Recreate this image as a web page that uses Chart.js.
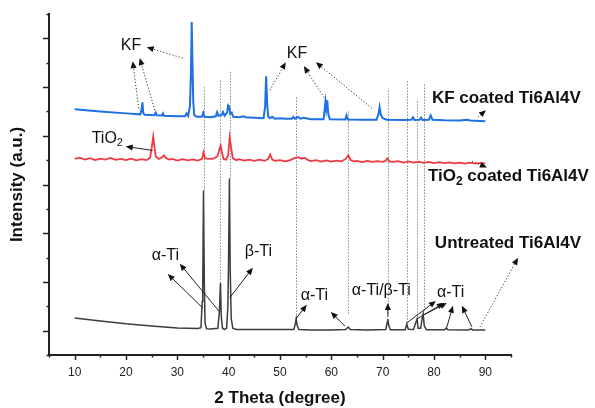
<!DOCTYPE html>
<html>
<head>
<meta charset="utf-8">
<script src="https://cdn.jsdelivr.net/npm/chart.js@4.4.1/dist/chart.umd.min.js"></script>
<style>
  html, body { margin: 0; padding: 0; background: #fff; }
  canvas { display: block; }
</style>
</head>
<body>
<canvas id="xrd" width="595" height="408"></canvas>
<script>
'use strict';

// [2theta, intensity] (traces are stacked with an offset)
const untreated = [
  [10, 1.52], [15, 1.40], [20, 1.28], [25, 1.19], [30, 1.11], [34, 1.09],
  [34.6, 1.12], [34.85, 2.2], [34.95, 2.8], [35.1, 6.75], [35.25, 3.0], [35.4, 1.3], [35.7, 1.08],
  [36.5, 1.07], [37.9, 1.1], [38.2, 1.8], [38.4, 2.96], [38.55, 1.6], [38.8, 1.1],
  [39.2, 1.05], [39.6, 1.1], [39.85, 2.0], [39.95, 3.4], [40.15, 7.25], [40.3, 3.5], [40.5, 1.5],
  [40.8, 1.1], [41.5, 1.05], [45, 1.05], [50, 1.05], [52.7, 1.05], [53.0, 1.3], [53.15, 1.48],
  [53.35, 1.2], [53.7, 1.05], [56, 1.03], [60, 1.03], [62.8, 1.05], [63.3, 1.15], [63.7, 1.05],
  [67, 1.03], [70.6, 1.05], [70.9, 1.35], [71.0, 1.48], [71.2, 1.2], [71.5, 1.04], [74.4, 1.04],
  [74.7, 1.27], [75.0, 1.06], [76.0, 1.05], [76.5, 1.35], [76.7, 1.48], [76.9, 1.1], [77.4, 1.1],
  [77.7, 1.5], [77.9, 1.69], [78.1, 1.2], [78.5, 1.04], [82.1, 1.04], [82.4, 1.12], [82.7, 1.04],
  [86.8, 1.03], [87.2, 1.08], [87.5, 1.03], [90, 1.03]
];

const tio2Coated = [
  [10, 8.05], [11, 8.1], [12, 8.02], [13, 8.08], [14, 8.0], [15, 8.06], [16, 8.02], [17, 8.09],
  [18, 8.01], [19, 8.05], [20, 8.0], [21, 8.06], [22, 7.99], [23, 8.04], [24, 8.0], [24.7, 8.1],
  [25.0, 8.5], [25.3, 8.97], [25.5, 8.6], [25.8, 8.15], [26.4, 8.05], [27.0, 8.12], [27.4, 8.2],
  [27.8, 8.08], [28.5, 8.02], [29, 8.05], [30, 7.98], [31, 8.04], [32, 7.99], [33, 8.03], [34, 7.98],
  [34.8, 8.05], [35.1, 8.32], [35.4, 8.08], [36, 8.05], [37, 8.06], [37.8, 8.15], [38.2, 8.45],
  [38.45, 8.6], [38.7, 8.3], [39.0, 8.05], [39.5, 8.02], [39.9, 8.2], [40.2, 8.93], [40.45, 8.55],
  [40.8, 8.08], [41.5, 8.0], [42, 8.04], [43, 7.98], [44, 8.02], [45, 7.97], [46, 8.02], [47, 7.97],
  [47.7, 8.05], [48.1, 8.23], [48.5, 8.02], [49, 7.97], [50, 8.0], [51, 7.95], [52, 8.0], [52.8, 8.08],
  [53.5, 8.12], [54.2, 8.06], [54.8, 8.1], [55.5, 8.0], [56, 7.96], [57, 8.0], [58, 7.94], [59, 7.99],
  [60, 7.94], [61, 7.98], [62, 7.95], [62.8, 8.05], [63.3, 8.2], [63.8, 8.0], [64.5, 7.95], [65, 7.97],
  [66, 7.92], [67, 7.97], [68, 7.93], [69, 7.96], [70, 7.93], [70.6, 7.98], [70.9, 8.07], [71.3, 7.95],
  [72, 7.93], [73, 7.96], [74, 7.9], [75, 7.95], [76, 7.9], [77, 7.94], [78, 7.89], [79, 7.93],
  [80, 7.88], [81, 7.92], [82, 7.88], [83, 7.91], [84, 7.87], [85, 7.9], [86, 7.86], [87, 7.9],
  [88, 7.86], [89, 7.89], [90, 7.86]
];

const kfCoated = [
  [10, 10.09], [15, 10.0], [20, 9.92], [22.8, 9.88], [23.05, 10.1], [23.2, 10.37], [23.35, 9.95],
  [23.6, 9.86], [25.5, 9.84], [25.8, 9.95], [26.0, 9.84], [27.0, 9.83], [27.2, 9.92], [27.4, 9.82],
  [30, 9.8], [31.5, 9.8], [31.8, 9.92], [32.1, 9.82], [32.45, 10.2], [32.65, 11.5], [32.8, 13.67],
  [32.95, 12.0], [33.1, 10.4], [33.3, 9.85], [33.8, 9.78], [34.8, 9.78], [35.05, 9.95], [35.3, 9.78],
  [36.5, 9.76], [37.5, 9.8], [37.75, 9.97], [38.0, 9.82], [38.6, 9.85], [38.9, 9.98], [39.2, 9.82],
  [39.7, 9.95], [39.9, 10.25], [40.1, 10.2], [40.3, 9.9], [40.6, 9.95], [40.9, 9.78], [42.0, 9.76],
  [43.0, 9.8], [43.3, 9.76], [45, 9.74], [46.8, 9.72], [47.1, 10.2], [47.3, 11.44], [47.5, 10.3],
  [47.7, 9.8], [48, 9.72], [48.5, 9.78], [49, 9.7], [50, 9.72], [51, 9.7], [52.3, 9.7], [52.6, 9.78],
  [52.9, 9.7], [53.5, 9.77], [54.0, 9.7], [54.6, 9.74], [56, 9.68], [58.5, 9.68], [58.7, 10.1],
  [58.85, 10.4], [59.0, 10.1], [59.2, 10.46], [59.4, 9.9], [59.7, 9.68], [62.7, 9.67], [62.95, 9.84],
  [63.2, 9.67], [66, 9.66], [68.8, 9.66], [69.2, 9.9], [69.4, 10.17], [69.6, 9.9], [70.0, 9.72],
  [70.8, 9.66], [74, 9.65], [75.6, 9.66], [75.9, 9.76], [76.2, 9.65], [77.2, 9.66], [77.5, 9.74],
  [77.8, 9.65], [79.0, 9.66], [79.35, 9.84], [79.7, 9.66], [82, 9.64], [85, 9.63], [86.5, 9.66],
  [87, 9.63], [90, 9.6]
];

const X_LABELS = [10, 20, 30, 40, 50, 60, 70, 80, 90];

// dotted reference lines: [2theta, from, to]
const refLines = [
  [35.15, 6.75, 11.07], [38.3, 2.96, 11.32], [40.2, 7.25, 11.69], [53.1, 1.52, 10.58],
  [63.2, 1.69, 10.05], [71.0, 1.69, 10.95], [74.7, 1.32, 11.28], [76.7, 1.61, 10.5], [78.0, 1.81, 11.12]
];

// arrows: [fromTheta, fromI, toTheta, toI, dotted]
const arrows = [
  [31.05, 12.19, 24.04, 12.64, true], [22.48, 10.13, 21.31, 12.06, true], [25.6, 10.05, 22.67, 12.19, true],
  [48.01, 10.87, 51.13, 12.02, true], [58.93, 10.46, 54.64, 11.86, true], [67.9, 10.13, 56.98, 12.02, true],
  [88.56, 9.76, 90.12, 10.05, true], [87.39, 7.95, 90.31, 7.7, true], [88.95, 1.15, 96.36, 3.99, true],
  [25.2, 8.4, 19.94, 8.56, false],
  [34.95, 1.93, 28.13, 3.33, false], [38.07, 1.81, 30.47, 3.75, false], [40.21, 2.35, 44.7, 3.58, false],
  [53.08, 1.48, 55.22, 2.06, false], [62.63, 1.19, 59.9, 1.77, false], [71.01, 1.56, 71.01, 2.14, false],
  [74.72, 1.32, 80.37, 2.22, false], [76.67, 1.48, 81.93, 2.14, false], [78.03, 1.65, 82.51, 2.14, false],
  [82.51, 1.15, 83.68, 2.02, false], [87.39, 1.15, 85.44, 2.02, false]
];

// text: [text, leftTheta, centerI, bold]  ("_2" = subscript)
const notes = [
  ['KF', 18.97, 12.72, false], ['KF', 51.33, 12.39, false], ['TiO_2', 13.31, 8.89, false],
  ['KF coated Ti6Al4V', 79.59, 10.54, true], ['TiO_2 coated Ti6Al4V', 78.81, 7.33, true],
  ['Untreated Ti6Al4V', 80.17, 4.57, true],
  ['\u03b1-Ti', 25.01, 4.08, false], ['\u03b2-Ti', 43.14, 4.24, false], ['\u03b1-Ti', 54.05, 2.43, false],
  ['\u03b1-Ti/\u03b2-Ti', 64.0, 2.63, false], ['\u03b1-Ti', 80.57, 2.55, false]
];

const FONT = '"Liberation Sans", Arial, sans-serif';
const AXIS_COLOR = '#222';
const toXY = pts => pts.map(([x, y]) => ({ x, y }));

function drawArrow(ctx, x1, y1, x2, y2, dotted) {
  const ang = Math.atan2(y2 - y1, x2 - x1);
  const len = 7;
  ctx.save();
  ctx.strokeStyle = dotted ? '#333' : '#222';
  ctx.fillStyle = '#111';
  ctx.lineWidth = 1;
  ctx.setLineDash(dotted ? [1.2, 2] : []);
  ctx.beginPath();
  ctx.moveTo(x1, y1);
  ctx.lineTo(x2 - Math.cos(ang) * len * 0.8, y2 - Math.sin(ang) * len * 0.8);
  ctx.stroke();
  ctx.setLineDash([]);
  ctx.beginPath();
  ctx.moveTo(x2, y2);
  ctx.lineTo(x2 - len * Math.cos(ang) + 3 * Math.sin(ang), y2 - len * Math.sin(ang) - 3 * Math.cos(ang));
  ctx.lineTo(x2 - len * Math.cos(ang) - 3 * Math.sin(ang), y2 - len * Math.sin(ang) + 3 * Math.cos(ang));
  ctx.closePath();
  ctx.fill();
  ctx.restore();
}

function drawNote(ctx, text, x, y, bold) {
  const size = bold ? 17 : 16;
  const parts = text.split(/_(\d)/);
  ctx.textBaseline = 'middle';
  ctx.textAlign = 'left';
  parts.forEach((part, i) => {
    const sub = i % 2 === 1;
    ctx.font = `${bold ? 'bold ' : ''}${sub ? Math.round(size * 0.68) : size}px ${FONT}`;
    ctx.fillText(part, x, sub ? y + size * 0.3 : y);
    x += ctx.measureText(part).width;
  });
}

// outward tick marks, long on the labelled ones and short in between
function drawTickMarks(ctx, scale, horizontal) {
  ctx.save();
  ctx.strokeStyle = AXIS_COLOR;
  ctx.lineWidth = 1.5;
  scale.ticks.forEach(({ value }) => {
    const p = Math.round(scale.getPixelForValue(value)) + 0.5;
    const major = horizontal ? value % 10 === 0 : value % 2 === 1;
    const len = major ? (horizontal ? 5 : 6) : 2.5;
    ctx.beginPath();
    if (horizontal) {
      ctx.moveTo(p, scale.top);
      ctx.lineTo(p, scale.top + len);
    } else {
      ctx.moveTo(scale.right, p);
      ctx.lineTo(scale.right - len, p);
    }
    ctx.stroke();
  });
  ctx.restore();
}

const annotations = {
  id: 'annotations',
  beforeDatasetsDraw(chart) {
    const { ctx, scales: { x, y } } = chart;
    ctx.save();
    ctx.strokeStyle = '#8c8c8c';
    ctx.lineWidth = 1;
    ctx.setLineDash([1.5, 1.5]);
    refLines.forEach(([t, from, to]) => {
      const px = Math.round(x.getPixelForValue(t)) + 0.5;
      ctx.beginPath();
      ctx.moveTo(px, y.getPixelForValue(from));
      ctx.lineTo(px, y.getPixelForValue(to));
      ctx.stroke();
    });
    ctx.restore();
  },
  afterDatasetsDraw(chart) {
    const { ctx, scales: { x, y } } = chart;
    arrows.forEach(([t1, i1, t2, i2, dotted]) => {
      drawArrow(ctx, x.getPixelForValue(t1), y.getPixelForValue(i1),
        x.getPixelForValue(t2), y.getPixelForValue(i2), dotted);
    });
    ctx.save();
    ctx.fillStyle = '#111';
    notes.forEach(([text, t, i, bold]) => {
      drawNote(ctx, text, x.getPixelForValue(t), y.getPixelForValue(i), bold);
    });
    ctx.restore();
  },
  afterDraw(chart) {
    const { ctx, chartArea, scales: { x, y } } = chart;
    drawTickMarks(ctx, x, true);
    drawTickMarks(ctx, y, false);
    ctx.save();
    ctx.fillStyle = '#111';
    ctx.font = `bold 17px ${FONT}`;
    ctx.textAlign = 'center';
    ctx.textBaseline = 'middle';
    ctx.fillText('2 Theta (degree)', (chartArea.left + chartArea.right) / 2, 398);
    ctx.translate(17, (chartArea.top + chartArea.bottom) / 2);
    ctx.rotate(-Math.PI / 2);
    ctx.fillText('Intensity (a.u.)', 0, 0);
    ctx.restore();
  }
};

const line = (data, color, width) => ({
  data: toXY(data),
  borderColor: color,
  borderWidth: width,
  pointRadius: 0,
  tension: 0,
  fill: false
});

new Chart(document.getElementById('xrd'), {
  type: 'line',
  data: {
    datasets: [
      line(untreated, '#3c3c3c', 1.5),
      line(tio2Coated, '#ee3a42', 1.8),
      line(kfCoated, '#1f6fe5', 2)
    ]
  },
  plugins: [annotations],
  options: {
    responsive: false,
    animation: false,
    events: [],
    layout: { padding: { top: 14, right: 84, left: 0, bottom: 0 } },
    plugins: { legend: { display: false }, tooltip: { enabled: false } },
    scales: {
      x: {
        type: 'linear',
        min: 5,
        max: 95,
        afterFit: scale => { scale.height = 53; },
        border: { display: true, color: AXIS_COLOR, width: 2 },
        grid: { display: true, drawOnChartArea: false, drawTicks: true, tickLength: 4, tickColor: 'rgba(0,0,0,0)' },
        ticks: {
          stepSize: 5,
          padding: 6,
          color: AXIS_COLOR,
          font: { family: FONT, size: 12 },
          maxRotation: 0,
          autoSkip: false,
          callback: v => (X_LABELS.includes(v) ? String(v) : '')
        }
      },
      y: {
        type: 'linear',
        min: 0,
        max: 14,
        afterFit: scale => { scale.width = 49; },
        border: { display: true, color: AXIS_COLOR, width: 2 },
        grid: { display: true, drawOnChartArea: false, drawTicks: true, tickLength: 5, tickColor: 'rgba(0,0,0,0)' },
        ticks: { stepSize: 1, display: false }
      }
    }
  }
});
</script>
</body>
</html>
